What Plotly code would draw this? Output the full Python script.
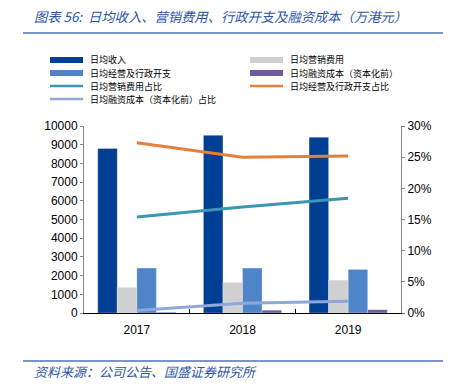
import plotly.graph_objects as go

years = ["2017", "2018", "2019"]
revenue = [8800, 9500, 9400]
marketing = [1370, 1640, 1760]
admin = [2400, 2400, 2330]
finance = [40, 150, 175]
marketing_pct = [15.4, 17.0, 18.4]
admin_pct = [27.3, 25.0, 25.2]
finance_pct = [0.4, 1.55, 1.9]

bar_names = ["日均收入", "日均营销费用", "日均经营及行政开支", "日均融资成本（资本化前）"]
line_names = ["日均营销费用占比", "日均经营及行政开支占比", "日均融资成本（资本化前）占比"]
bar_colors = ["#003F94", "#D0D0D0", "#5084C8", "#6E5A9E"]
line_colors = ["#3A96B2", "#E5803A", "#8FA8DA"]

title_text = "图表 56:  日均收入、营销费用、行政开支及融资成本（万港元）"
source_text = "资料来源：公司公告、国盛证券研究所"

OFF = 8  # page body margin
W, H = 451 - OFF, 389 - OFF
L, R, T, B = 84 - OFF, 58 - OFF, 126 - OFF, 76
PW, PH = W - L - R, H - T - B

def px(x):
    return (x - OFF - L) / PW

def py(y):
    return (H - B - (y - OFF)) / PH

fig = go.Figure()
for name, vals, col in zip(bar_names, [revenue, marketing, admin, finance], bar_colors):
    fig.add_trace(go.Bar(x=years, y=vals, name=name, marker=dict(color=col, line=dict(color="rgba(255,255,255,0.5)", width=0.6)),
                         showlegend=False, yaxis="y"))
for name, vals, col in zip(line_names, [marketing_pct, admin_pct, finance_pct], line_colors):
    fig.add_trace(go.Scatter(x=years, y=vals, name=name, mode="lines", line=dict(color=col, width=3),
                             showlegend=False, yaxis="y2"))

fig.update_layout(
    width=W, height=H,
    margin=dict(l=L, r=R, t=T, b=B),
    paper_bgcolor="white", plot_bgcolor="white",
    barmode="group", bargap=0.26, bargroupgap=0,
    font=dict(family="Arial, Liberation Sans", size=12, color="black"),
    xaxis=dict(showline=True, linecolor="black", linewidth=1, ticks="inside", tickson="boundaries",
               ticklen=4, tickcolor="black", showgrid=False, tickfont=dict(size=12), ticklabelstandoff=6),
    yaxis=dict(range=[0, 10000], dtick=1000, tickformat="d", showline=True, linecolor="#888888", linewidth=1,
               ticks="outside", ticklen=3, tickcolor="#888888", showgrid=False, zeroline=False,
               tickfont=dict(size=12)),
    yaxis2=dict(range=[0, 30], dtick=5, overlaying="y", side="right", showline=True, linecolor="#888888",
                linewidth=1, ticks="outside", ticklen=3, tickcolor="#888888", showgrid=False,
                zeroline=False, ticksuffix="%", tickfont=dict(size=12)),
    showlegend=False,
)

shapes = []
annotations = []
# title & source
annotations.append(dict(text=title_text, x=px(32), y=py(17), xref="paper", yref="paper", xanchor="left",
                        yanchor="middle", showarrow=False,
                        font=dict(family="Noto Sans CJK SC", size=13.3, color="#2D55A6", style="italic")))
shapes.append(dict(type="line", xref="paper", yref="paper", x0=px(23), x1=px(445), y0=py(33), y1=py(33),
                   line=dict(color="#4A72B8", width=1.5)))
shapes.append(dict(type="line", xref="paper", yref="paper", x0=px(23), x1=px(445), y0=py(361), y1=py(361),
                   line=dict(color="#4A72B8", width=1.5)))
annotations.append(dict(text=source_text, x=px(32), y=py(371), xref="paper", yref="paper", xanchor="left",
                        yanchor="middle", showarrow=False,
                        font=dict(family="Noto Sans CJK SC", size=13, color="#2D55A6", style="italic")))

# legend
entries = [(n, c, "bar") for n, c in zip(bar_names, bar_colors)] + [(n, c, "line") for n, c in zip(line_names, line_colors)]
rows_y = [60, 73, 86, 99]
cols_x = [50, 250]
for i, (name, col, kind) in enumerate(entries):
    r, c = divmod(i, 2)
    x0 = cols_x[c]
    yc = rows_y[r]
    hh = 3 if kind == "bar" else 1.3
    shapes.append(dict(type="rect", xref="paper", yref="paper", x0=px(x0), x1=px(x0 + 33),
                       y0=py(yc + hh), y1=py(yc - hh), fillcolor=col, line=dict(width=0)))
    annotations.append(dict(text=name, x=px(x0 + 38), y=py(yc), xref="paper", yref="paper", xanchor="left",
                            yanchor="middle", showarrow=False,
                            font=dict(family="Noto Sans CJK SC", size=9, color="black")))

fig.update_layout(shapes=shapes, annotations=annotations)
fig.write_html("out.html")
